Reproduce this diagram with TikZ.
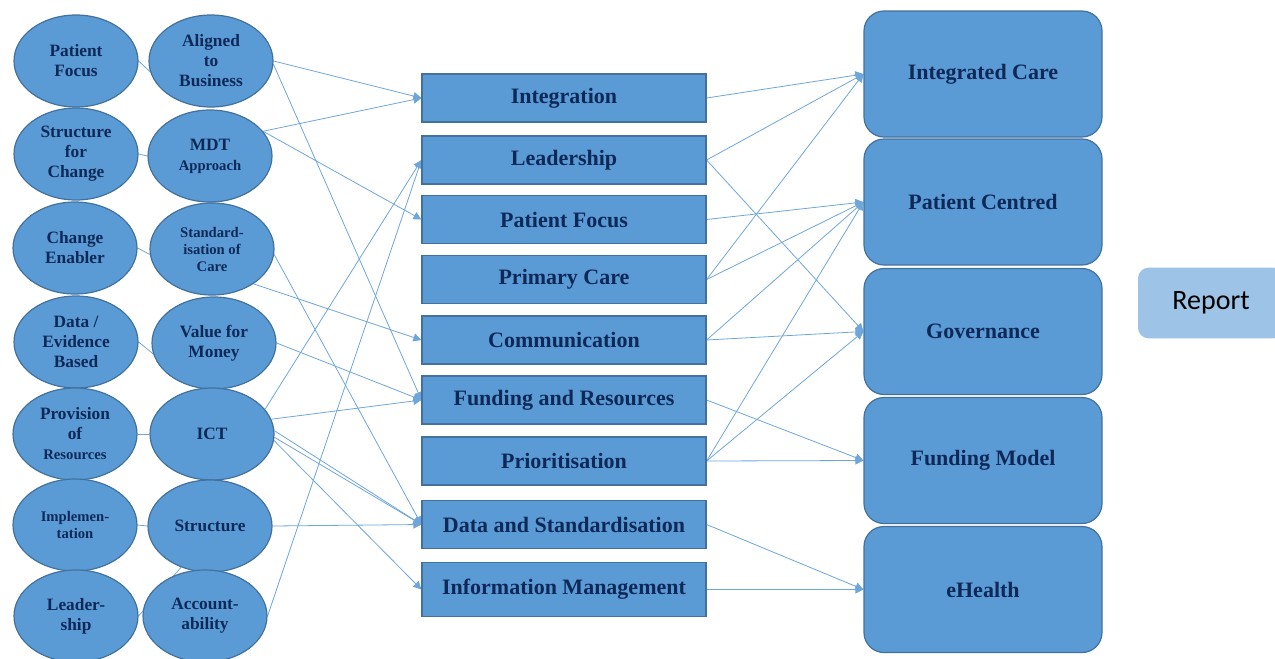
\documentclass[tikz,border=0pt]{standalone}
\usepackage{fontspec}
\setmainfont{Liberation Serif}
\newfontfamily\reportfont{Carlito}
\usetikzlibrary{shapes.geometric,arrows.meta,backgrounds}
\definecolor{boxblue}{HTML}{5B9BD5}
\definecolor{boxedge}{HTML}{41719C}
\definecolor{inkblue}{HTML}{0E2958}
\definecolor{linkblue}{HTML}{6EA6DC}
\definecolor{reportblue}{HTML}{9DC3E6}
\newcommand\smalltext[1]{{\fontsize{11}{13}\selectfont #1}}
\begin{document}
\begin{tikzpicture}[x=.75pt,y=-.75pt,
 oval/.style={ellipse,draw=boxedge,line width=.9pt,fill=boxblue,minimum width=93pt,minimum height=69pt,inner sep=0pt,align=center,text=inkblue,font=\fontsize{13}{15}\selectfont\bfseries},
 small/.style={font=\fontsize{11}{12.75}\selectfont\bfseries},
 theme/.style={draw=boxedge,line width=.9pt,fill=boxblue,minimum width=213pt,minimum height=36pt,inner sep=0pt,text=inkblue,font=\fontsize{16.5}{19}\selectfont\bfseries},
 goal/.style={draw=boxedge,line width=.9pt,fill=boxblue,rounded corners=15pt,minimum width=178.5pt,minimum height=94.5pt,inner sep=0pt,text=inkblue,font=\fontsize{16.5}{19}\selectfont\bfseries},
 report/.style={fill=reportblue,rounded corners=8pt,minimum width=109.5pt,minimum height=53pt,font=\reportfont\fontsize{21}{25}\selectfont},
 link/.style={draw=linkblue,line width=.6pt},
 arr/.style={link,-{Triangle[length=6pt,width=6pt]}}]
 \useasboundingbox (0,0) rectangle (1275,658);
 %% left: principles, two columns of ellipses
 \node[oval] (pf) at (76,61) {Patient\\Focus};
 \node[oval] (al) at (211,61) {Aligned\\to\\Business};
 \node[oval] (sfc) at (76,154) {Structure\\for\\Change};
 \node[oval] (mdt) at (210,156) {MDT\\\smalltext{Approach}};
 \node[oval] (ce) at (75,248) {Change\\Enabler};
 \node[oval,small] (std) at (212,249) {Standard-\\isation of\\Care};
 \node[oval] (deb) at (76,342) {Data /\\Evidence\\Based};
 \node[oval] (vfm) at (214,343) {Value for\\Money};
 \node[oval] (prov) at (75,434) {Provision\\of\\\smalltext{Resources}};
 \node[oval] (ict) at (212,434) {ICT};
 \node[oval,small] (impl) at (75,525) {Implemen-\\tation};
 \node[oval] (str) at (210,526) {Structure};
 \node[oval] (lsh) at (76,616) {Leader-\\ship};
 \node[oval] (acc) at (205,616) {Account-\\ability};
 %% middle: themes
 \foreach \n/\y/\t in {integ/98/Integration, lead/160/Leadership, pfoc/219.5/Patient Focus, prim/279.5/Primary Care, comm/340/Communication, fund/400/Funding and Resources, prio/461/Prioritisation, data/524.5/Data and Standardisation}{\node[theme] (\n) at (564,\y) {\t};}
 \node[theme,minimum height=40.5pt] (info) at (564,589.5) {Information Management};
 %% right: outcomes
 \foreach \n/\y/\t in {ic/74/Integrated Care, pc/202/Patient Centred, gov/331.5/Governance, fm/460.5/Funding Model, eh/589.5/eHealth}{\node[goal] (\n) at (983,\y) {\t};}
 \node[report] (rep) at (1211,303) {Report};
 %% links, kept under the shapes
 \begin{scope}[on background layer]
  \foreach \a/\b in {pf.east/al.190, sfc.east/mdt.west, ce.east/std.185, deb.east/vfm.190, prov.east/ict.west, impl.east/str.west, lsh.east/str.235}{\draw[link] (\a) -- (\b);}
  \foreach \a/\b in {al.east/integ, al.-3/fund, mdt.25/integ, mdt.25/pfoc, std.-5/data, std.-40/comm, vfm.east/fund, ict.25/lead, ict.14/fund, ict.3/data, ict.-3/data, ict.-6/info, str.east/data, acc.east/lead}{\draw[arr] (\a) -- (\b.west);}
  \foreach \a/\b in {integ/ic, lead/ic, lead/gov, pfoc/pc, prim/ic, prim/pc, comm/pc, comm/gov, fund/fm, prio/pc, prio/gov, prio/fm, data/eh, info/eh}{\draw[arr] (\a.east) -- (\b.west);}
 \end{scope}
\end{tikzpicture}
\end{document}
